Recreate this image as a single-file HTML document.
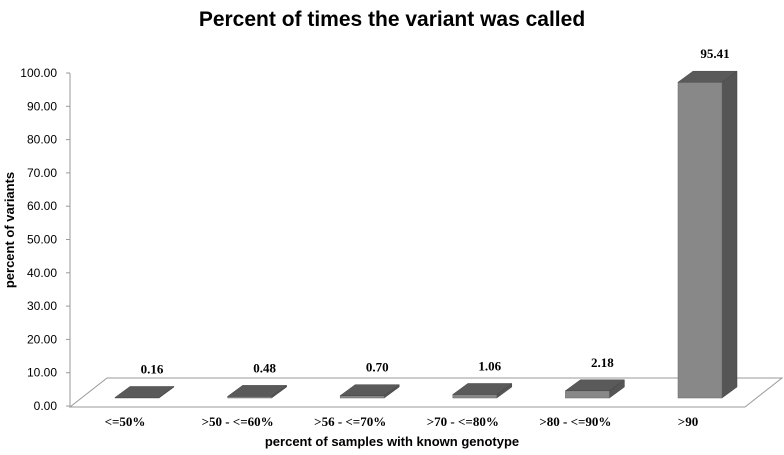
<!DOCTYPE html>
<html><head><meta charset="utf-8"><style>
body{margin:0;background:#fff;}
svg{display:block;}
</style></head><body>
<svg id="chart" width="784" height="455" xmlns="http://www.w3.org/2000/svg" font-family="Liberation Sans, sans-serif">
<text x="392" y="26" text-anchor="middle" font-size="21" font-weight="bold">Percent of times the variant was called</text>
<text transform="translate(14,230) rotate(-90)" text-anchor="middle" font-size="13" font-weight="bold">percent of variants</text>
<text x="392" y="446" text-anchor="middle" font-size="13" font-weight="bold">percent of samples with known genotype</text>
<g id="axes"></g>
<g id="bars"></g>
</svg>
<script>
const categories = ["<=50%", ">50 - <=60%", ">56 - <=70%", ">70 - <=80%", ">80 - <=90%", ">90"];
const values = [0.16, 0.48, 0.70, 1.06, 2.18, 95.41];
const valueLabels = ["0.16", "0.48", "0.70", "1.06", "2.18", "95.41"];
const yTicks = [0,10,20,30,40,50,60,70,80,90,100];
const yTickLabels = ["0.00","10.00","20.00","30.00","40.00","50.00","60.00","70.00","80.00","90.00","100.00"];

const NS="http://www.w3.org/2000/svg";
const y0=406, yScale=3.33;
const yAxis=v=>y0-v*yScale;
const barBase=398, barScale=3.31;
const xCenter=i=>137+112.6*i;
const bw=44, dx=15, dy=11;
function mk(tag,attrs,parent){const e=document.createElementNS(NS,tag);for(const k in attrs)e.setAttribute(k,attrs[k]);parent.appendChild(e);return e;}
const axes=document.getElementById('axes'), bars=document.getElementById('bars');

const floor=mk('polygon',{points:"70,407 107,378 782,378 745,407",fill:"#fff",stroke:"#999","stroke-width":1},axes);


const yl=mk('line',{x1:70,y1:yAxis(100),x2:70,y2:407,stroke:"#999"},axes);



yTicks.forEach((v,i)=>{
  const t=mk('text',{x:57,y:yAxis(v)+4,"text-anchor":"end","font-size":12},axes);
  t.textContent=yTickLabels[i];
  
  
  const tk=mk('line',{x1:66,y1:yAxis(v),x2:70,y2:yAxis(v),stroke:"#999"},axes);
  
  
});

categories.forEach((c,i)=>{
  const cx=xCenter(i), x1=cx-bw/2, x2=cx+bw/2;
  const top=barBase-values[i]*barScale;
  const g=mk('g',{},bars);
  
  
  mk('polygon',{points:`${x2},${barBase} ${x2+dx},${barBase-dy} ${x2+dx},${top-dy} ${x2},${top}`,fill:"#555",stroke:"#444","stroke-width":0.5},g);
  mk('rect',{x:x1,y:top,width:bw,height:Math.max(barBase-top,0.5),fill:"#888",stroke:"#666","stroke-width":0.5},g);
  mk('polygon',{points:`${x1},${top} ${x1+dx},${top-dy} ${x2+dx},${top-dy} ${x2},${top}`,fill:"#5a5a5a",stroke:"#444","stroke-width":0.5},g);
  const vl=mk('text',{x:cx+15,y:top-dy-13,"text-anchor":"middle","font-size":13,"font-weight":"bold","font-family":"Liberation Serif, serif"},bars);
  vl.textContent=valueLabels[i];
  
  
  const xl=mk('text',{x:cx-12,y:426,"text-anchor":"middle","font-size":13,"font-family":"Liberation Serif, serif","font-weight":"bold"},bars);
  xl.textContent=c;
  
  
});
</script>
</body></html>
